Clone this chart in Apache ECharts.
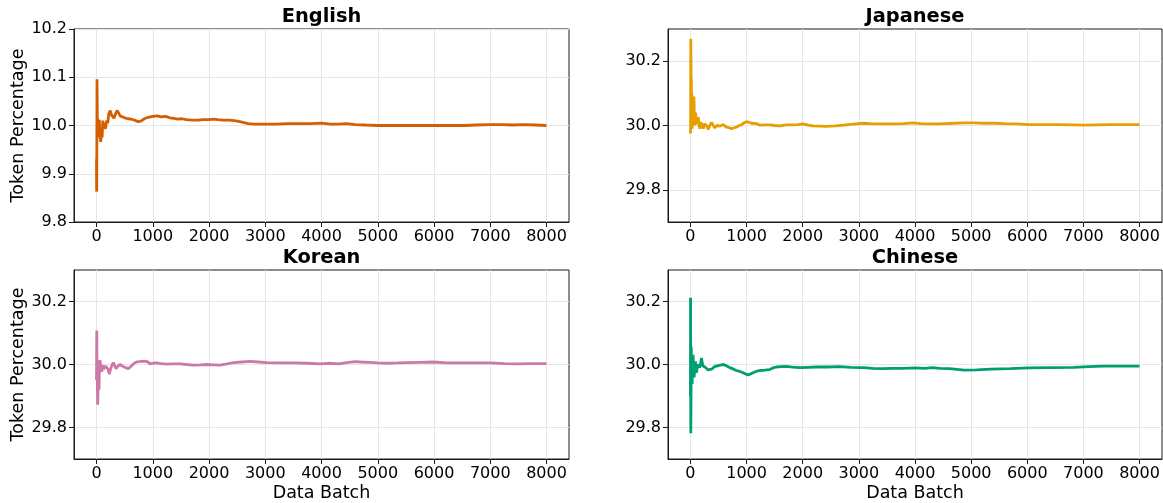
<!DOCTYPE html>
<html>
<head>
<meta charset="utf-8">
<script src="https://cdn.jsdelivr.net/npm/echarts@6/dist/echarts.min.js"></script>
<style>
  html, body { margin: 0; padding: 0; background: #fff; }
  #chart { width: 1163px; height: 503px; }
</style>
</head>
<body>
<div id="chart"></div>
<script>
// Running token share per language, sampled by data batch: [batch, percentage]
const english = [
  [0, 9.93], [2, 9.87], [4, 9.863], [6, 9.95], [9, 10.096], [12, 10.06], [16, 9.99], [20, 10.015],
  [26, 9.98], [32, 10.01], [40, 9.975], [50, 10.012], [62, 9.98], [75, 9.966], [88, 9.985], [100, 9.975],
  [112, 10.01], [125, 9.995], [140, 10.005], [160, 9.993], [180, 10.01], [200, 10.005], [220, 10.025],
  [245, 10.031], [265, 10.022], [290, 10.018], [310, 10.015], [340, 10.025], [370, 10.031], [395, 10.028],
  [420, 10.02], [446, 10.017], [500, 10.016], [560, 10.014], [620, 10.013], [680, 10.011], [740, 10.008],
  [790, 10.009], [850, 10.014], [920, 10.017], [1000, 10.019], [1080, 10.020], [1150, 10.018], [1230, 10.019],
  [1300, 10.016], [1370, 10.015], [1440, 10.013], [1520, 10.014], [1600, 10.012], [1700, 10.011], [1800, 10.011],
  [1900, 10.012], [2000, 10.012], [2080, 10.013], [2160, 10.012], [2250, 10.011], [2350, 10.011], [2450, 10.010],
  [2550, 10.008], [2620, 10.006], [2700, 10.004], [2800, 10.003], [2900, 10.003], [3000, 10.003], [3200, 10.003],
  [3400, 10.004], [3600, 10.004], [3800, 10.004], [4000, 10.005], [4160, 10.003], [4300, 10.003], [4440, 10.004],
  [4600, 10.002], [4780, 10.001], [5000, 10.000], [5300, 10.000], [5600, 10.000], [6000, 10.000], [6300, 10.000],
  [6550, 10.000], [6750, 10.001], [7000, 10.002], [7200, 10.002], [7400, 10.001], [7580, 10.002], [7800, 10.001],
  [8000, 10.000]
];

const japanese = [
  [0, 29.975], [3, 30.0], [6, 30.27], [9, 30.2], [12, 30.13], [16, 30.145], [20, 30.03], [25, 30.10],
  [30, 29.99], [38, 30.07], [45, 30.0], [55, 30.06], [62, 30.09], [70, 30.02], [80, 30.0], [90, 30.04],
  [98, 30.035], [110, 30.005], [121, 30.01], [139, 30.026], [155, 30.0], [168, 29.99], [185, 30.01],
  [198, 30.016], [215, 30.0], [228, 29.99], [250, 30.005], [287, 30.0], [316, 29.988], [345, 30.0],
  [375, 30.01], [405, 30.0], [435, 29.992], [465, 30.0], [494, 30.0], [530, 29.998], [583, 30.003],
  [615, 30.0], [642, 29.995], [690, 29.993], [730, 29.99], [775, 29.993], [820, 29.995], [870, 30.0],
  [909, 30.002], [950, 30.008], [998, 30.012], [1040, 30.01], [1087, 30.007], [1175, 30.006], [1235, 30.001],
  [1354, 30.002], [1413, 30.002], [1500, 30.0], [1590, 29.999], [1710, 30.002], [1825, 30.002], [1920, 30.003],
  [2000, 30.005], [2100, 30.001], [2180, 29.999], [2300, 29.998], [2415, 29.997], [2500, 29.998], [2590, 29.999],
  [2770, 30.002], [2900, 30.004], [3070, 30.007], [3200, 30.006], [3365, 30.005], [3500, 30.005], [3660, 30.005],
  [3800, 30.006], [3955, 30.008], [4100, 30.006], [4250, 30.005], [4400, 30.005], [4545, 30.006], [4700, 30.007],
  [4880, 30.008], [5050, 30.008], [5235, 30.007], [5400, 30.007], [5590, 30.006], [5800, 30.005], [6030, 30.003],
  [6300, 30.003], [6540, 30.003], [6800, 30.002], [7015, 30.001], [7250, 30.002], [7490, 30.003], [7750, 30.003],
  [8000, 30.003]
];

const korean = [
  [0, 29.951], [3, 30.05], [5, 30.108], [8, 30.02], [12, 29.987], [16, 29.93], [20, 29.872], [25, 29.90],
  [32, 29.977], [38, 29.95], [44, 29.92], [52, 29.99], [62, 30.014], [75, 29.995], [92, 29.977], [110, 29.998],
  [125, 29.985], [139, 29.982], [160, 29.995], [181, 30.0], [205, 29.985], [228, 29.969], [250, 29.985],
  [275, 29.998], [299, 30.006], [320, 29.998], [347, 29.987], [380, 29.995], [418, 30.0], [445, 29.997],
  [477, 29.993], [520, 29.99], [566, 29.987], [600, 29.99], [625, 29.996], [670, 30.004], [714, 30.008],
  [760, 30.009], [803, 30.01], [850, 30.011], [880, 30.014], [915, 30.008], [951, 30.002], [1010, 30.004],
  [1070, 30.005], [1150, 30.003], [1250, 30.001], [1350, 30.002], [1487, 30.002], [1600, 30.0], [1724, 29.998],
  [1850, 29.999], [1961, 30.0], [2080, 29.999], [2198, 29.998], [2320, 30.002], [2435, 30.006], [2580, 30.008],
  [2730, 30.010], [2880, 30.008], [3027, 30.006], [3250, 30.005], [3500, 30.005], [3750, 30.004], [3975, 30.002],
  [4150, 30.004], [4300, 30.002], [4450, 30.006], [4595, 30.009], [4700, 30.008], [4860, 30.007], [5000, 30.005],
  [5160, 30.004], [5350, 30.005], [5515, 30.006], [5750, 30.007], [5990, 30.008], [6225, 30.005], [6500, 30.005],
  [6750, 30.005], [6995, 30.005], [7250, 30.003], [7470, 30.002], [7750, 30.003], [8000, 30.003]
];

const chinese = [
  [0, 29.90], [2, 30.212], [4, 30.0], [6, 29.782], [10, 29.9], [14, 30.057], [18, 30.0], [24, 29.96],
  [30, 29.938], [38, 29.99], [47, 30.031], [55, 29.99], [65, 29.959], [78, 29.99], [89, 30.01], [98, 29.995],
  [107, 29.974], [120, 29.99], [136, 30.0], [150, 29.995], [166, 29.99], [182, 30.005], [196, 30.021],
  [210, 30.005], [226, 29.995], [250, 29.992], [273, 29.99], [310, 29.983], [344, 29.979], [375, 29.985],
  [403, 29.988], [430, 29.993], [462, 29.995], [530, 29.998], [593, 30.0], [640, 29.996], [700, 29.99],
  [760, 29.986], [818, 29.981], [880, 29.978], [937, 29.974], [985, 29.97], [1025, 29.967], [1070, 29.97],
  [1115, 29.974], [1170, 29.978], [1233, 29.981], [1320, 29.982], [1410, 29.984], [1470, 29.989], [1530, 29.992],
  [1620, 29.993], [1707, 29.994], [1820, 29.992], [1944, 29.99], [2090, 29.991], [2240, 29.992], [2450, 29.992],
  [2655, 29.993], [2860, 29.991], [3070, 29.99], [3250, 29.988], [3425, 29.987], [3600, 29.988], [3780, 29.988],
  [4000, 29.989], [4170, 29.988], [4310, 29.99], [4450, 29.988], [4610, 29.987], [4880, 29.982], [5100, 29.983],
  [5350, 29.985], [5700, 29.987], [6030, 29.989], [6400, 29.99], [6830, 29.991], [7100, 29.993], [7365, 29.995],
  [7700, 29.995], [8000, 29.995]
];

// Axis ticks
const batchTicks = [0, 1000, 2000, 3000, 4000, 5000, 6000, 7000, 8000];
const englishTicks = [9.8, 9.9, 10.0, 10.1, 10.2];
const otherTicks = [29.8, 30.0, 30.2];

const panelTitles = ['English', 'Japanese', 'Korean', 'Chinese'];
const panelColors = ['#D55E00', '#E69F00', '#CC79A7', '#009E73'];
const panelData = [english, japanese, korean, chinese];

const FONT = '"DejaVu Sans", "Liberation Sans", sans-serif';
const grids = [
  { left: 74, top: 29, width: 495, height: 193 },
  { left: 668, top: 29, width: 494, height: 193 },
  { left: 74, top: 270, width: 495, height: 192 },
  { left: 668, top: 270, width: 494, height: 192 }
];

const chart = echarts.init(document.getElementById('chart'), null, { renderer: 'canvas' });

const xAxes = grids.map((g, i) => ({
  type: 'value',
  gridIndex: i,
  min: -400,
  max: 8400,
  name: i >= 2 ? 'Data Batch' : '',
  nameLocation: 'middle',
  nameGap: 25,
  nameTextStyle: { fontFamily: FONT, fontSize: 17.5, color: '#000' },
  axisLine: { show: true, onZero: false, lineStyle: { color: '#1a1a1a', width: 1 } },
  axisTick: { show: true, inside: false, length: 5, customValues: batchTicks, lineStyle: { color: '#1a1a1a', width: 1 } },
  axisLabel: { customValues: batchTicks, fontFamily: FONT, fontSize: 16, color: '#000', margin: 7,
               formatter: v => String(Math.round(v)) },
  splitLine: { show: true, lineStyle: { color: '#e6e6e6', width: 1 } }
}));

const yAxes = grids.map((g, i) => {
  const ticks = i === 0 ? englishTicks : otherTicks;
  return {
    type: 'value',
    gridIndex: i,
    min: i === 0 ? 9.8 : 29.7,
    max: i === 0 ? 10.2 : 30.3,
    name: (i % 2 === 0) ? 'Token Percentage' : '',
    nameLocation: 'middle',
    nameGap: 45,
    nameTextStyle: { fontFamily: FONT, fontSize: 17.5, color: '#000' },
    axisLine: { show: true, onZero: false, lineStyle: { color: '#1a1a1a', width: 1 } },
    axisTick: { show: true, inside: false, length: 5, customValues: ticks, lineStyle: { color: '#1a1a1a', width: 1 } },
    axisLabel: { customValues: ticks, fontFamily: FONT, fontSize: 16, color: '#000', margin: 7,
                 formatter: v => v.toFixed(1) },
    splitLine: { show: true, lineStyle: { color: '#e6e6e6', width: 1 } }
  };
});

const series = panelData.map((d, i) => ({
  type: 'line',
  xAxisIndex: i,
  yAxisIndex: i,
  data: d,
  showSymbol: false,
  symbol: 'none',
  lineStyle: { color: panelColors[i], width: 2.8 },
  itemStyle: { color: panelColors[i] },
  clip: true,
  z: 3
}));

const titleText = grids.map((g, i) => ({
  type: 'text',
  x: g.left + g.width / 2,
  y: g.top - 12,
  style: {
    text: panelTitles[i],
    font: 'bold 19.4px ' + FONT,
    fill: '#000',
    textAlign: 'center',
    textVerticalAlign: 'middle'
  }
}));

chart.setOption({
  animation: false,
  backgroundColor: '#ffffff',
  grid: grids.map(g => Object.assign({ show: true, borderColor: '#1a1a1a', borderWidth: 1, backgroundColor: 'transparent', containLabel: false }, g)),
  xAxis: xAxes,
  yAxis: yAxes,
  series: series,
  graphic: titleText
});
</script>
</body>
</html>
